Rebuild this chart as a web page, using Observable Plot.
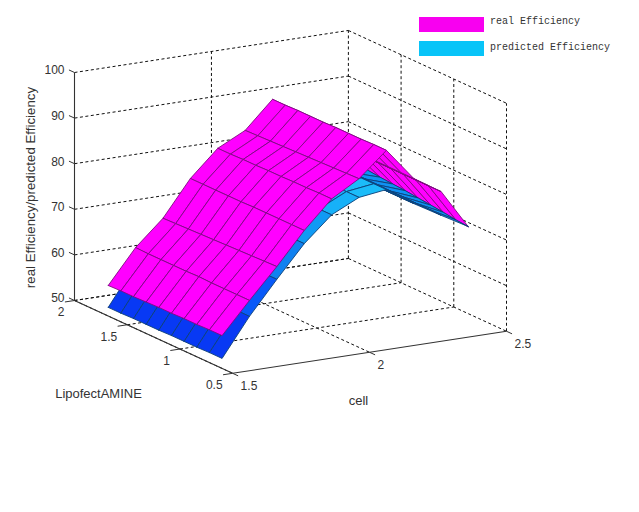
<!DOCTYPE html>
<html>
<head>
<meta charset="utf-8">
<script src="https://cdn.jsdelivr.net/npm/d3@7"></script>
<script src="https://cdn.jsdelivr.net/npm/@observablehq/plot@0.6"></script>
<style>
html,body{margin:0;padding:0;background:#fff;}
#wrap{position:relative;width:639px;height:512px;overflow:hidden;}
#wrap svg{position:absolute;left:0;top:0;}
.sw{position:absolute;left:419px;width:65px;height:15px;}
.lg{position:absolute;left:490px;font:10px/12px "Liberation Mono",monospace;color:#333;white-space:pre;}
</style>
</head>
<body>
<div id="wrap">
  <div class="sw" style="top:17px;background:#f800f0"></div>
  <div class="lg" style="top:16px">real Efficiency</div>
  <div class="sw" style="top:41px;background:#08c4f8"></div>
  <div class="lg" style="top:42px">predicted Efficiency</div>
</div>
<script>
const cellValues = [1.5,1.6,1.7,1.8,1.9,2.0,2.1,2.2,2.3,2.4];
const lipoValues = [1.68,1.56,1.44,1.32,1.2,1.08,0.96,0.84,0.72,0.6];
const realEfficiency = [
  [56.7,56.8,56.8,56.9,57.0,57.0,57.1,57.1,57.2,57.2],
  [64.1,64.0,64.0,64.0,64.0,64.1,64.0,64.0,64.0,64.0],
  [69.6,69.7,69.8,69.9,70.0,70.1,70.2,70.3,70.4,70.5],
  [77.4,77.4,77.4,77.4,77.4,77.5,77.5,77.5,77.5,77.5],
  [83.1,83.1,83.2,83.2,83.3,83.3,83.4,83.4,83.5,83.5],
  [86.1,86.2,86.3,86.4,86.5,86.6,86.7,86.8,86.9,87.0],
  [92.0,92.0,92.1,92.1,92.1,92.2,92.2,92.2,92.3,92.3],
  [85.0,85.0,85.1,85.1,85.1,85.1,85.2,85.2,85.2,85.2],
  [81.5,81.5,81.5,81.5,81.4,81.4,81.4,81.4,81.4,81.4],
  [75.0,75.0,74.7,74.5,74.3,74.0,73.7,73.4,73.0,72.7]
];
const predictedEfficiency = [
  [51.9,51.9,52.0,52.0,52.0,52.1,52.1,52.1,52.2,52.2],
  [60.4,60.4,60.4,60.4,60.5,60.5,60.5,60.5,60.5,60.5],
  [67.5,67.5,67.6,67.6,67.6,67.6,67.7,67.7,67.7,67.7],
  [74.5,74.5,74.5,74.5,74.6,74.6,74.6,74.6,74.6,74.6],
  [79.8,79.8,79.8,79.9,79.9,79.9,80.0,80.0,80.0,80.0],
  [82.7,82.7,82.8,82.8,82.8,82.8,82.9,82.9,82.9,82.9],
  [83.6,83.6,83.6,83.6,83.7,83.7,83.7,83.7,83.7,83.7],
  [79.6,79.6,79.6,79.7,79.7,79.7,79.7,79.7,79.7,79.7],
  [76.6,76.6,76.6,76.5,76.5,76.4,76.4,76.3,76.3,76.2],
  [75.0,75.0,74.7,74.5,74.3,74.0,73.7,73.4,73.0,72.8]
];
const zTicks = [50,60,70,80,90,100];
const lipoTicks = [2,1.5,1,0.5];
const cellTicks = [1.5,2,2.5];
const legendColors = {real:"#ff00ff", realEdge:"#7f0a80", predEdge:"#0b3f78"};

// orthographic view of the axes box
const AZ = 30*Math.PI/180, EL = 15.4*Math.PI/180, ZK = 0.747;
const U = c => (c-1.5)/1, V = l => (2-l)/1.5, W = z => (z-50)/50;
const PX = (c,l) => Math.cos(AZ)*U(c) + Math.sin(AZ)*V(l);
const PY = (c,l,z) => Math.sin(AZ)*Math.sin(EL)*U(c) - Math.cos(AZ)*Math.sin(EL)*V(l) + Math.cos(EL)*ZK*W(z);

const predColor = d3.scaleLinear().domain([50,56,64,71,77,82,86]).range(["#0030f4","#0838f4","#0858f8","#1080f0","#1098f4","#18b4f8","#20ccfa"]);

function quads(values, id, fill, stroke, k, out){
  for(let j=0;j<lipoValues.length-1;j++){
    const corners=[[k,j],[k+1,j],[k+1,j+1],[k,j+1],[k,j]];
    const mean=d3.mean(corners.slice(0,4),([a,b])=>values[a][b]);
    const f = fill || predColor(mean);
    for(const [a,b] of corners) out.push({X:PX(cellValues[a],lipoValues[b]),Y:PY(cellValues[a],lipoValues[b],values[a][b]),q:id+"-"+k+"-"+j,f,s:stroke});
  }
}
const mesh=[];
for(let k=cellValues.length-2;k>=0;k--){
  if(k>=6){
    quads(realEfficiency,"r",legendColors.real,legendColors.realEdge,k,mesh);
    quads(predictedEfficiency,"p",null,legendColors.predEdge,k,mesh);
  }else{
    quads(predictedEfficiency,"p",null,legendColors.predEdge,k,mesh);
    quads(realEfficiency,"r",legendColors.real,legendColors.realEdge,k,mesh);
  }
}

const seg=(c1,l1,z1,c2,l2,z2)=>({x1:PX(c1,l1),y1:PY(c1,l1,z1),x2:PX(c2,l2),y2:PY(c2,l2,z2)});
const grid=[];
for(const z of zTicks){ grid.push(seg(1.5,2,z,2.5,2,z)); grid.push(seg(2.5,2,z,2.5,0.5,z)); }
for(const c of cellTicks){ if(c>1.5) grid.push(seg(c,2,50,c,2,100)); if(c<2.5) grid.push(seg(c,2,50,c,0.5,50)); }
for(const l of lipoTicks){ if(l<2) grid.push(seg(2.5,l,50,2.5,l,100)); if(l>0.5) grid.push(seg(1.5,l,50,2.5,l,50)); }

const axisLines=[seg(1.5,2,50,1.5,2,100),seg(1.5,2,50,1.5,0.5,50),seg(1.5,0.5,50,2.5,0.5,50)];
const TL=0.035;
const ticks=[
  ...zTicks.map(z=>seg(1.5,2,z,1.5,2+TL*1.5,z)),
  ...lipoTicks.map(l=>seg(1.5,l,50,1.5-TL,l,50)),
  ...cellTicks.map(c=>seg(c,0.5,50,c,0.5-TL*1.5,50))
];
const textFont="Liberation Sans";
const tickStyle={fontFamily:textFont,fontSize:12,fill:"#333"};
const labelStyle={frameAnchor:"top-left",textAnchor:"middle",lineAnchor:"middle",fontFamily:textFont,fontSize:13,fill:"#333"};

const plot=Plot.plot({
  width:639,height:512,margin:0,
  x:{domain:[0,Math.cos(AZ)+Math.sin(AZ)],range:[74,506],axis:null},
  y:{domain:[0,Math.cos(EL)*ZK],range:[300,72],axis:null},
  color:{type:"identity"},
  style:{background:"transparent"},
  marks:[
    Plot.link(grid,{x1:"x1",y1:"y1",x2:"x2",y2:"y2",stroke:"#111",strokeWidth:1,strokeDasharray:"3,2.5"}),
    Plot.link(axisLines,{x1:"x1",y1:"y1",x2:"x2",y2:"y2",stroke:"#333",strokeWidth:1.1}),
    Plot.link(ticks,{x1:"x1",y1:"y1",x2:"x2",y2:"y2",stroke:"#333",strokeWidth:1}),
    Plot.line(mesh,{x:"X",y:"Y",z:"q",fill:"f",stroke:"s",strokeWidth:0.9,strokeLinejoin:"round",curve:"linear"}),
    Plot.text(zTicks,{x:()=>PX(1.5,2),y:z=>PY(1.5,2,z),text:z=>String(z),textAnchor:"end",dx:-10,dy:-2,...tickStyle}),
    Plot.text(lipoTicks,{x:l=>PX(1.5,l),y:l=>PY(1.5,l,50),text:l=>String(l),textAnchor:"end",dx:-10,dy:12,...tickStyle}),
    Plot.text(cellTicks,{x:c=>PX(c,0.5),y:c=>PY(c,0.5,50),text:c=>String(c),textAnchor:"start",dx:8,dy:13,...tickStyle}),
    Plot.text(["real Efficiency/predicted Efficiency"],{...labelStyle,dx:30,dy:187,rotate:-90,fontSize:13.3}),
    Plot.text(["LipofectAMINE"],{...labelStyle,dx:98,dy:393}),
    Plot.text(["cell"],{...labelStyle,dx:358,dy:400})
  ]
});
document.getElementById("wrap").prepend(plot);
</script>
</body>
</html>
